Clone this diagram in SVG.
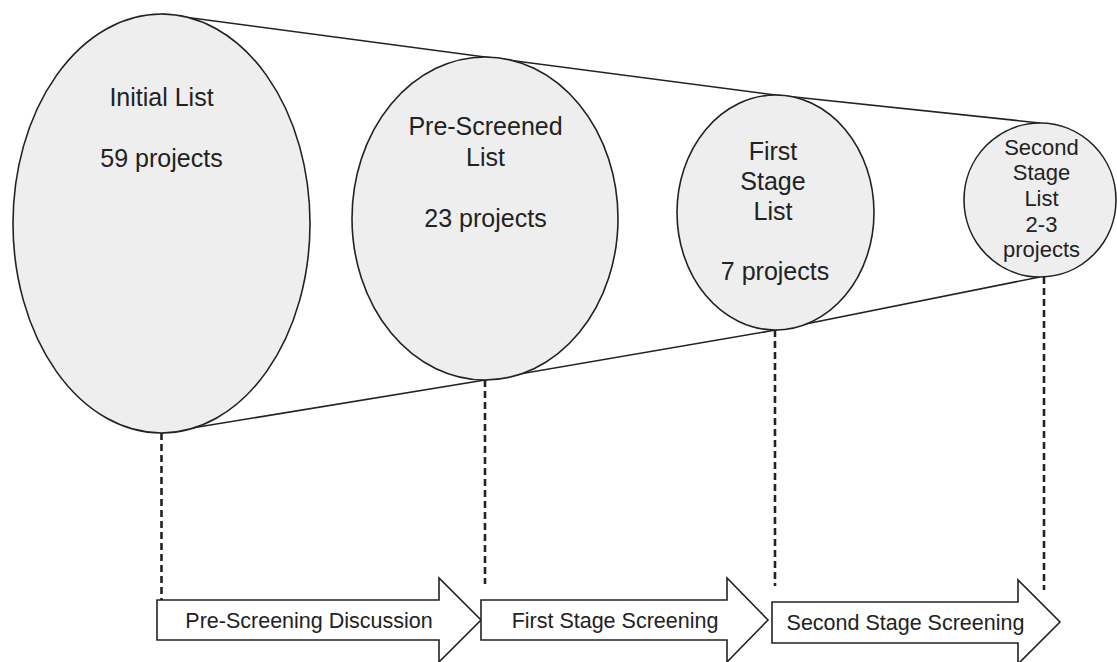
<svg xmlns="http://www.w3.org/2000/svg" width="1117" height="662" viewBox="0 0 1117 662">
<style>
.bg{fill:#ffffff}
.list{fill:#eeeeee;stroke:#222;stroke-width:1.6}
.edge{fill:none;stroke:#222;stroke-width:1.6}
.dash{fill:none;stroke:#222;stroke-width:2.6;stroke-dasharray:7 4}
.arrow{fill:#ffffff;stroke:#222;stroke-width:1.6}
.t{font-family:"Liberation Sans",Arial,sans-serif;fill:#222;text-anchor:middle}
.big{font-size:25px}
.mid{font-size:22px}
.lab{font-size:21.5px}
</style>
<rect class="bg" x="0" y="0" width="1117" height="662"/>
<g id="connectors">
<polyline class="edge" points="161.5,14 485,57 775.5,95 1040,123"/>
<polyline class="edge" points="161.5,433 485,380 775.5,330 1040,277"/>
<line class="dash" x1="161.5" y1="433" x2="161.5" y2="600"/>
<line class="dash" x1="485" y1="380" x2="485" y2="584"/>
<line class="dash" x1="775" y1="330" x2="775" y2="586"/>
<line class="dash" x1="1044" y1="277" x2="1044" y2="590"/>
</g>
<g id="initial-list">
<ellipse class="list" cx="161.5" cy="223.5" rx="148.5" ry="209.5"/>
<text class="t big" x="161.5" y="106">Initial List</text>
<text class="t big" x="161.5" y="167">59 projects</text>
</g>
<g id="pre-screened-list">
<ellipse class="list" cx="485" cy="218.5" rx="133" ry="161.5"/>
<text class="t big" x="485.5" y="135">Pre-Screened</text>
<text class="t big" x="485.5" y="166">List</text>
<text class="t big" x="485.5" y="227">23 projects</text>
</g>
<g id="first-stage-list">
<ellipse class="list" cx="775.5" cy="212.5" rx="98.5" ry="117.5"/>
<text class="t big" x="773" y="160">First</text>
<text class="t big" x="773" y="190">Stage</text>
<text class="t big" x="773" y="220">List</text>
<text class="t big" x="775" y="280">7 projects</text>
</g>
<g id="second-stage-list">
<ellipse class="list" cx="1040" cy="200" rx="76" ry="77"/>
<text class="t mid" x="1041.5" y="155">Second</text>
<text class="t mid" x="1041.5" y="180">Stage</text>
<text class="t mid" x="1041.5" y="206">List</text>
<text class="t mid" x="1041.5" y="232">2-3</text>
<text class="t mid" x="1041.5" y="257">projects</text>
</g>
<g id="pre-screening-discussion">
<polygon class="arrow" points="157,600 439,600 439,578 481,620 439,662 439,640 157,640"/>
<text class="t lab" x="309" y="628">Pre-Screening Discussion</text>
</g>
<g id="first-stage-screening">
<polygon class="arrow" points="481,600 727,600 727,578 768,620 727,662 727,640 481,640"/>
<text class="t lab" x="615" y="628">First Stage Screening</text>
</g>
<g id="second-stage-screening">
<polygon class="arrow" points="772,602 1018,602 1018,580 1060,622 1018,664 1018,643 772,643"/>
<text class="t lab" x="905.5" y="630">Second Stage Screening</text>
</g>
</svg>
